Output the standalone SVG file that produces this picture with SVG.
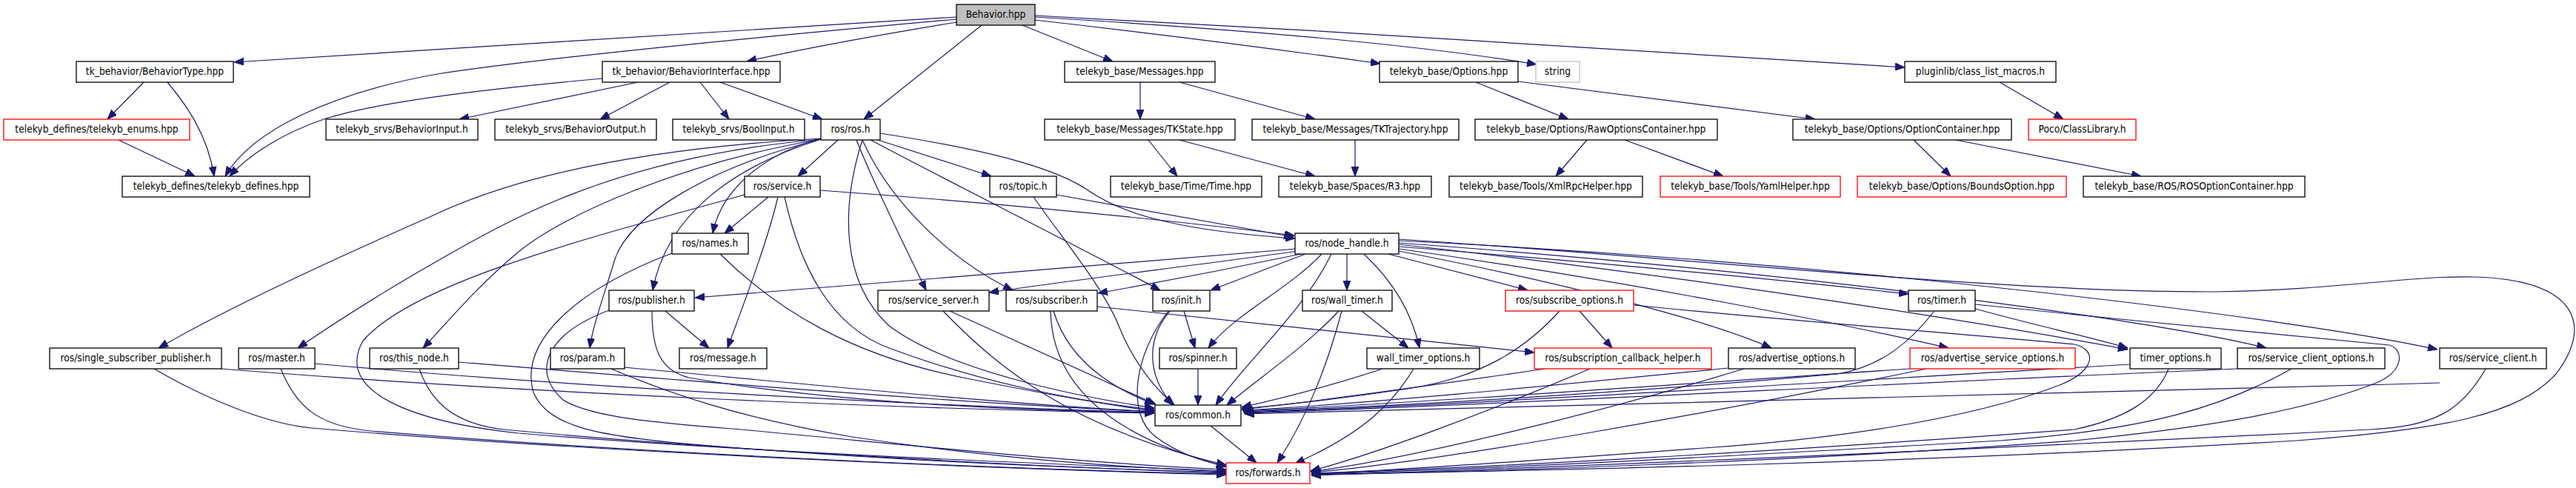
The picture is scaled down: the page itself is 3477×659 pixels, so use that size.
<svg xmlns="http://www.w3.org/2000/svg" width="3477" height="659" viewBox="0 0 3477 659">
<defs>
<style>
.node rect{fill:#fff;stroke:#000;stroke-width:1.3}
.node.red rect{stroke:#ff0000}
.node.grey rect{stroke:#bfbfbf}
.node.root rect{fill:#bfbfbf}
.node text{font-family:"DejaVu Sans","Liberation Sans",sans-serif;font-size:12.3px;text-anchor:middle;fill:#000}
#edges path{fill:none;stroke:#191970;stroke-width:1.2;marker-end:url(#arr)}
</style>
<marker id="arr" viewBox="0 0 13 10" refX="13" refY="5" markerWidth="13" markerHeight="10" markerUnits="userSpaceOnUse" orient="auto">
<path d="M0,0 L13,5 L0,10 z" fill="#191970" stroke="#191970" stroke-width="1"/>
</marker>
</defs>
<rect x="0" y="0" width="3477" height="659" fill="#fff"/>
<g id="edges">
<path d="M1291,23 C1000,42 620,64 316,84"/>
<path d="M1291,26 C1000,52 720,80 590,100 C450,125 340,175 304,238"/>
<path d="M813,106 C680,118 520,135 440,160 C380,180 335,210 310,238"/>
<path d="M194,111 L145,161"/>
<path d="M226,111 C250,140 280,180 289,238"/>
<path d="M160,189 L263,238"/>
<path d="M1291,30 C1200,45 1100,62 1008,83"/>
<path d="M1325,34 L1166,161"/>
<path d="M1380,34 L1502,83"/>
<path d="M1397,27 C1600,50 1750,70 1863,86"/>
<path d="M1397,23 C1650,38 1900,58 2074,87"/>
<path d="M1397,21 C1800,42 2300,72 2571,91"/>
<path d="M861,111 L620,161"/>
<path d="M904,111 L810,161"/>
<path d="M945,111 L984,161"/>
<path d="M972,111 L1110,161"/>
<path d="M1539,111 L1539,161"/>
<path d="M1592,111 L1775,161"/>
<path d="M1550,189 L1589,238"/>
<path d="M1592,189 L1775,238"/>
<path d="M1829,189 L1829,238"/>
<path d="M1992,111 L2117,161"/>
<path d="M2049,110 C2200,130 2350,148 2450,161"/>
<path d="M2142,189 L2100,238"/>
<path d="M2193,189 L2326,238"/>
<path d="M2583,189 L2633,238"/>
<path d="M2640,189 L2890,238"/>
<path d="M2699,111 L2785,161"/>
<path d="M1131,189 L1077,238"/>
<path d="M1108,187 C1040,205 975,250 962,315"/>
<path d="M1108,188 C990,225 900,290 881,392"/>
<path d="M1108,188 C960,225 850,290 830,350 C815,400 800,440 796,470"/>
<path d="M1108,188 C920,220 760,290 700,340 C640,390 600,440 571,470"/>
<path d="M1108,188 C860,210 720,280 630,330 C540,380 460,430 402,470"/>
<path d="M1108,187 C880,200 700,235 580,293 C450,350 300,420 214,470"/>
<path d="M1156,189 C1180,250 1220,330 1250,392"/>
<path d="M1164,189 C1200,270 1280,350 1367,392"/>
<path d="M1175,189 C1300,255 1450,330 1566,392"/>
<path d="M1185,189 L1338,238"/>
<path d="M1188,180 C1350,205 1430,230 1470,258 C1520,292 1600,312 1748,322"/>
<path d="M1164,189 C1135,280 1135,380 1200,440 C1280,500 1450,535 1558,551"/>
<path d="M1037,266 L978,315"/>
<path d="M1050,266 C1035,330 1000,420 982,470"/>
<path d="M1059,266 C1080,360 1120,440 1200,470 C1320,515 1450,542 1558,553"/>
<path d="M1107,257 C1400,278 1600,300 1747,318"/>
<path d="M1005,263 C800,320 560,380 490,460 C450,530 560,570 700,585 C1000,610 1400,626 1655,636"/>
<path d="M1426,263 C1550,285 1650,303 1746,320"/>
<path d="M1395,266 C1440,330 1490,390 1510,440 C1530,490 1560,525 1585,547"/>
<path d="M972,343 C1050,420 1150,480 1300,510 C1400,530 1480,545 1558,555"/>
<path d="M907,342 C780,390 700,460 720,530 C740,575 800,590 960,602 C1200,622 1450,632 1655,638"/>
<path d="M898,420 L957,470"/>
<path d="M880,420 C880,470 890,500 930,510 C1100,540 1350,555 1558,557"/>
<path d="M822,419 C740,450 715,500 760,540 C800,565 900,572 1000,580 C1250,603 1450,625 1655,634"/>
<path d="M843,496 C1100,520 1350,545 1558,556"/>
<path d="M825,498 C900,530 1000,565 1150,590 C1350,620 1500,630 1655,637"/>
<path d="M619,489 C900,512 1300,545 1558,556"/>
<path d="M566,498 C580,540 610,572 680,580 C1000,610 1400,630 1655,639"/>
<path d="M425,491 C800,525 1300,550 1558,557"/>
<path d="M379,498 C400,550 430,575 500,582 C900,615 1400,635 1655,640"/>
<path d="M298,498 C700,530 1200,552 1558,558"/>
<path d="M208,498 C280,540 360,572 420,578 C800,610 1300,632 1655,641"/>
<path d="M1282,420 L1560,546"/>
<path d="M1273,420 C1350,500 1450,580 1655,628"/>
<path d="M1422,420 C1440,480 1490,520 1558,546"/>
<path d="M1418,420 C1420,520 1500,590 1655,630"/>
<path d="M1481,414 C1700,438 1900,458 2071,476"/>
<path d="M1598,420 L1613,470"/>
<path d="M1579,420 C1545,460 1550,510 1583,547"/>
<path d="M1577,420 C1530,480 1520,560 1560,590 C1590,612 1620,622 1655,630"/>
<path d="M1617,498 L1617,547"/>
<path d="M1634,575 L1696,625"/>
<path d="M1750,336 C1500,356 1200,382 938,402"/>
<path d="M1752,339 C1600,360 1450,378 1335,395"/>
<path d="M1756,343 C1650,365 1560,382 1482,396"/>
<path d="M1762,343 L1634,392"/>
<path d="M1784,343 C1740,390 1665,425 1631,470"/>
<path d="M1797,343 C1760,420 1680,490 1641,547"/>
<path d="M1818,343 L1818,392"/>
<path d="M1841,343 C1880,380 1905,420 1916,470"/>
<path d="M1874,343 L2062,392"/>
<path d="M1888,339 C2100,380 2300,430 2391,470"/>
<path d="M1888,336 C2200,380 2500,440 2630,470"/>
<path d="M1888,333 C2200,358 2450,383 2576,397"/>
<path d="M1888,330 C2300,375 2700,440 2872,472"/>
<path d="M1888,328 C2400,365 2900,430 3059,470"/>
<path d="M1888,325 C2500,355 3100,430 3290,472"/>
<path d="M1888,323 C2300,350 2700,395 2990,394 C3150,392 3250,372 3340,374 C3480,378 3500,440 3450,505 C3400,560 3300,580 3100,595 C2600,625 2100,635 1770,641"/>
<path d="M1838,420 L1901,470"/>
<path d="M1807,420 C1760,470 1700,510 1656,547"/>
<path d="M1811,420 C1790,500 1760,570 1724,625"/>
<path d="M1866,498 C1800,520 1720,540 1676,550"/>
<path d="M1908,498 C1880,545 1840,585 1748,626"/>
<path d="M2132,420 L2176,470"/>
<path d="M2105,420 C2060,470 2000,510 1900,525 C1800,540 1720,548 1676,552"/>
<path d="M2205,412 C2400,432 2700,455 2800,465 C2830,472 2830,500 2780,520 C2650,570 2450,595 2300,605 C2100,620 1900,634 1770,640"/>
<path d="M2086,498 C1900,525 1750,545 1676,553"/>
<path d="M2146,498 C2000,560 1850,615 1769,636"/>
<path d="M2333,497 C2100,520 1850,545 1677,554"/>
<path d="M2354,498 C2150,560 1900,620 1769,637"/>
<path d="M2578,498 C2250,520 1900,545 1678,555"/>
<path d="M2600,498 C2300,560 1950,622 1770,638"/>
<path d="M2666,417 C2750,440 2820,455 2872,470"/>
<path d="M2610,421 C2580,460 2540,495 2480,505 C2200,530 1900,548 1678,556"/>
<path d="M2666,411 C2850,430 3100,455 3225,466 C3245,472 3245,500 3210,516 C3100,560 2950,580 2800,595 C2400,625 2000,637 1770,641"/>
<path d="M2875,492 C2400,520 1950,548 1679,557"/>
<path d="M2927,498 C2910,540 2870,565 2800,580 C2400,610 2000,632 1770,639"/>
<path d="M3020,498 C2500,520 2000,548 1679,558"/>
<path d="M3093,498 C3000,550 2900,580 2700,595 C2300,618 2000,634 1770,640"/>
<path d="M3293,517 C2700,535 2100,552 1680,559"/>
<path d="M3355,498 C3320,560 3280,575 3200,580 C2700,605 2200,628 1770,642"/>
</g>
<g id="n0" class="node root"><rect x="1291" y="6" width="106" height="28"/><text transform="translate(1344,20) scale(1,1.17)" y="3.7">Behavior.hpp</text></g>
<g id="n1" class="node"><rect x="103" y="83" width="212" height="28"/><text transform="translate(209,97) scale(1,1.17)" y="3.7">tk_behavior/BehaviorType.hpp</text></g>
<g id="n2" class="node"><rect x="813" y="83" width="240" height="28"/><text transform="translate(933,97) scale(1,1.17)" y="3.7">tk_behavior/BehaviorInterface.hpp</text></g>
<g id="n3" class="node"><rect x="1437" y="83" width="203" height="28"/><text transform="translate(1538.5,97) scale(1,1.17)" y="3.7">telekyb_base/Messages.hpp</text></g>
<g id="n4" class="node"><rect x="1862" y="83" width="187" height="28"/><text transform="translate(1955.5,97) scale(1,1.17)" y="3.7">telekyb_base/Options.hpp</text></g>
<g id="n5" class="node grey"><rect x="2073" y="83" width="59" height="28"/><text transform="translate(2102.5,97) scale(1,1.17)" y="3.7">string</text></g>
<g id="n6" class="node"><rect x="2571" y="83" width="204" height="28"/><text transform="translate(2673,97) scale(1,1.17)" y="3.7">pluginlib/class_list_macros.h</text></g>
<g id="n7" class="node red"><rect x="5" y="161" width="251" height="28"/><text transform="translate(130.5,175) scale(1,1.17)" y="3.7">telekyb_defines/telekyb_enums.hpp</text></g>
<g id="n8" class="node"><rect x="440" y="161" width="205" height="28"/><text transform="translate(542.5,175) scale(1,1.17)" y="3.7">telekyb_srvs/BehaviorInput.h</text></g>
<g id="n9" class="node"><rect x="668" y="161" width="218" height="28"/><text transform="translate(777,175) scale(1,1.17)" y="3.7">telekyb_srvs/BehaviorOutput.h</text></g>
<g id="n10" class="node"><rect x="908" y="161" width="178" height="28"/><text transform="translate(997,175) scale(1,1.17)" y="3.7">telekyb_srvs/BoolInput.h</text></g>
<g id="n11" class="node"><rect x="1108" y="161" width="80" height="28"/><text transform="translate(1148,175) scale(1,1.17)" y="3.7">ros/ros.h</text></g>
<g id="n12" class="node"><rect x="1410" y="161" width="257" height="28"/><text transform="translate(1538.5,175) scale(1,1.17)" y="3.7">telekyb_base/Messages/TKState.hpp</text></g>
<g id="n13" class="node"><rect x="1690" y="161" width="279" height="28"/><text transform="translate(1829.5,175) scale(1,1.17)" y="3.7">telekyb_base/Messages/TKTrajectory.hpp</text></g>
<g id="n14" class="node"><rect x="1991" y="161" width="327" height="28"/><text transform="translate(2154.5,175) scale(1,1.17)" y="3.7">telekyb_base/Options/RawOptionsContainer.hpp</text></g>
<g id="n15" class="node"><rect x="2420" y="161" width="295" height="28"/><text transform="translate(2567.5,175) scale(1,1.17)" y="3.7">telekyb_base/Options/OptionContainer.hpp</text></g>
<g id="n16" class="node red"><rect x="2738" y="161" width="145" height="28"/><text transform="translate(2810.5,175) scale(1,1.17)" y="3.7">Poco/ClassLibrary.h</text></g>
<g id="n17" class="node"><rect x="165" y="238" width="253" height="28"/><text transform="translate(291.5,252) scale(1,1.17)" y="3.7">telekyb_defines/telekyb_defines.hpp</text></g>
<g id="n18" class="node"><rect x="1005" y="238" width="102" height="28"/><text transform="translate(1056,252) scale(1,1.17)" y="3.7">ros/service.h</text></g>
<g id="n19" class="node"><rect x="1336" y="238" width="90" height="28"/><text transform="translate(1381,252) scale(1,1.17)" y="3.7">ros/topic.h</text></g>
<g id="n20" class="node"><rect x="1499" y="238" width="204" height="28"/><text transform="translate(1601,252) scale(1,1.17)" y="3.7">telekyb_base/Time/Time.hpp</text></g>
<g id="n21" class="node"><rect x="1726" y="238" width="206" height="28"/><text transform="translate(1829,252) scale(1,1.17)" y="3.7">telekyb_base/Spaces/R3.hpp</text></g>
<g id="n22" class="node"><rect x="1956" y="238" width="261" height="28"/><text transform="translate(2086.5,252) scale(1,1.17)" y="3.7">telekyb_base/Tools/XmlRpcHelper.hpp</text></g>
<g id="n23" class="node red"><rect x="2241" y="238" width="243" height="28"/><text transform="translate(2362.5,252) scale(1,1.17)" y="3.7">telekyb_base/Tools/YamlHelper.hpp</text></g>
<g id="n24" class="node red"><rect x="2507" y="238" width="282" height="28"/><text transform="translate(2648,252) scale(1,1.17)" y="3.7">telekyb_base/Options/BoundsOption.hpp</text></g>
<g id="n25" class="node"><rect x="2812" y="238" width="299" height="28"/><text transform="translate(2961.5,252) scale(1,1.17)" y="3.7">telekyb_base/ROS/ROSOptionContainer.hpp</text></g>
<g id="n26" class="node"><rect x="907" y="315" width="103" height="28"/><text transform="translate(958.5,329) scale(1,1.17)" y="3.7">ros/names.h</text></g>
<g id="n27" class="node"><rect x="1748" y="315" width="140" height="28"/><text transform="translate(1818,329) scale(1,1.17)" y="3.7">ros/node_handle.h</text></g>
<g id="n28" class="node"><rect x="822" y="392" width="115" height="28"/><text transform="translate(879.5,406) scale(1,1.17)" y="3.7">ros/publisher.h</text></g>
<g id="n29" class="node"><rect x="1185" y="392" width="150" height="28"/><text transform="translate(1260,406) scale(1,1.17)" y="3.7">ros/service_server.h</text></g>
<g id="n30" class="node"><rect x="1358" y="392" width="123" height="28"/><text transform="translate(1419.5,406) scale(1,1.17)" y="3.7">ros/subscriber.h</text></g>
<g id="n31" class="node"><rect x="1556" y="392" width="77" height="28"/><text transform="translate(1594.5,406) scale(1,1.17)" y="3.7">ros/init.h</text></g>
<g id="n32" class="node"><rect x="1758" y="392" width="121" height="28"/><text transform="translate(1818.5,406) scale(1,1.17)" y="3.7">ros/wall_timer.h</text></g>
<g id="n33" class="node red"><rect x="2032" y="392" width="173" height="28"/><text transform="translate(2118.5,406) scale(1,1.17)" y="3.7">ros/subscribe_options.h</text></g>
<g id="n34" class="node"><rect x="2576" y="392" width="90" height="28"/><text transform="translate(2621,406) scale(1,1.17)" y="3.7">ros/timer.h</text></g>
<g id="n35" class="node"><rect x="67" y="470" width="232" height="28"/><text transform="translate(183,484) scale(1,1.17)" y="3.7">ros/single_subscriber_publisher.h</text></g>
<g id="n36" class="node"><rect x="322" y="470" width="103" height="28"/><text transform="translate(373.5,484) scale(1,1.17)" y="3.7">ros/master.h</text></g>
<g id="n37" class="node"><rect x="499" y="470" width="120" height="28"/><text transform="translate(559,484) scale(1,1.17)" y="3.7">ros/this_node.h</text></g>
<g id="n38" class="node"><rect x="743" y="470" width="100" height="28"/><text transform="translate(793,484) scale(1,1.17)" y="3.7">ros/param.h</text></g>
<g id="n39" class="node"><rect x="917" y="470" width="118" height="28"/><text transform="translate(976,484) scale(1,1.17)" y="3.7">ros/message.h</text></g>
<g id="n40" class="node"><rect x="1565" y="470" width="104" height="28"/><text transform="translate(1617,484) scale(1,1.17)" y="3.7">ros/spinner.h</text></g>
<g id="n41" class="node"><rect x="1845" y="470" width="152" height="28"/><text transform="translate(1921,484) scale(1,1.17)" y="3.7">wall_timer_options.h</text></g>
<g id="n42" class="node red"><rect x="2071" y="470" width="239" height="28"/><text transform="translate(2190.5,484) scale(1,1.17)" y="3.7">ros/subscription_callback_helper.h</text></g>
<g id="n43" class="node"><rect x="2333" y="470" width="171" height="28"/><text transform="translate(2418.5,484) scale(1,1.17)" y="3.7">ros/advertise_options.h</text></g>
<g id="n44" class="node red"><rect x="2578" y="470" width="223" height="28"/><text transform="translate(2689.5,484) scale(1,1.17)" y="3.7">ros/advertise_service_options.h</text></g>
<g id="n45" class="node"><rect x="2875" y="470" width="123" height="28"/><text transform="translate(2936.5,484) scale(1,1.17)" y="3.7">timer_options.h</text></g>
<g id="n46" class="node"><rect x="3020" y="470" width="199" height="28"/><text transform="translate(3119.5,484) scale(1,1.17)" y="3.7">ros/service_client_options.h</text></g>
<g id="n47" class="node"><rect x="3293" y="470" width="144" height="28"/><text transform="translate(3365,484) scale(1,1.17)" y="3.7">ros/service_client.h</text></g>
<g id="n48" class="node"><rect x="1559" y="547" width="116" height="28"/><text transform="translate(1617,561) scale(1,1.17)" y="3.7">ros/common.h</text></g>
<g id="n49" class="node red"><rect x="1655" y="625" width="113" height="28"/><text transform="translate(1711.5,639) scale(1,1.17)" y="3.7">ros/forwards.h</text></g>
</svg>
